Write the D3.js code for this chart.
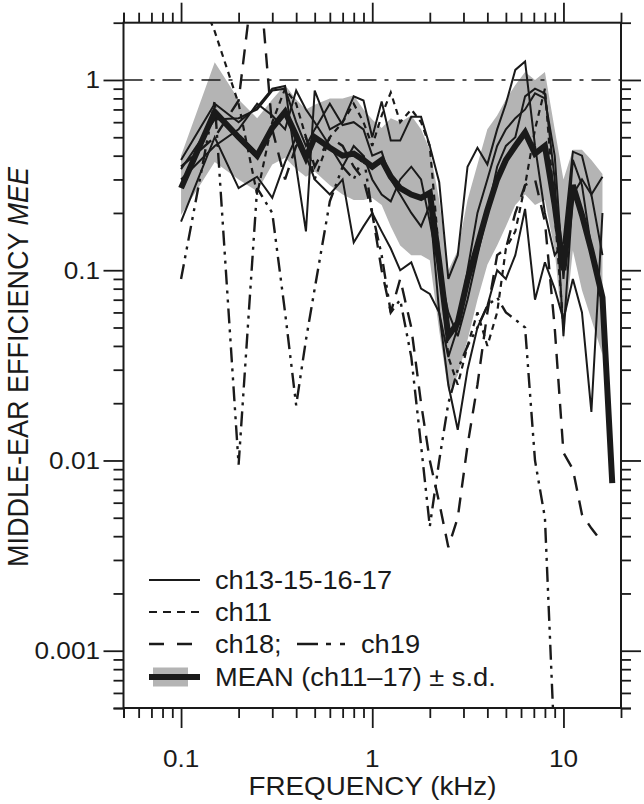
<!DOCTYPE html>
<html><head><meta charset="utf-8">
<script src="https://cdn.jsdelivr.net/npm/d3@7"></script>
<style>body{margin:0;background:#fff}svg{display:block}</style>
</head><body><svg id="c" width="644" height="804"></svg>
<script>
// ---------- data (kHz, middle-ear efficiency) ----------
const freq = [0.1,0.15,0.2,0.25,0.3,0.35,0.4,0.45,0.5,0.6,0.7,0.8,0.9,1.0,1.12,1.25,1.4,1.6,1.8,2.0,2.24,2.5,2.8,3.15,3.55,4.0,4.5,5.0,5.6,6.3,7.1,8.0,9.0,10,11.2,12.5,14,16,18];
const meanMEE = [0.27,0.68,0.50,0.40,0.56,0.68,0.51,0.39,0.50,0.44,0.40,0.41,0.38,0.35,0.38,0.31,0.27,0.25,0.24,0.255,0.11,0.045,0.053,0.089,0.135,0.207,0.30,0.38,0.45,0.53,0.41,0.45,0.22,0.10,0.28,0.195,0.127,0.072,0.0076];
const sdUpper = [0.40,1.24,0.79,0.63,0.79,0.94,0.79,0.70,0.74,0.80,0.80,0.83,0.70,0.62,0.56,0.63,0.60,0.65,0.55,0.43,0.234,0.10,0.127,0.234,0.36,0.55,0.65,0.79,0.94,1.10,1.0,1.10,0.55,0.30,0.43,0.43,0.38,0.32,null];
const sdLower = [0.195,0.37,0.30,0.26,0.36,0.39,0.34,0.31,0.33,0.28,0.25,0.234,0.234,0.24,0.22,0.17,0.135,0.12,0.12,0.113,0.048,0.023,0.028,0.043,0.07,0.107,0.135,0.17,0.22,0.25,0.22,0.234,0.127,0.043,0.127,0.0785,0.055,0.036,null];
const ch13 = [0.38,0.75,0.60,0.72,0.90,0.93,0.35,0.16,0.88,0.55,0.60,0.82,0.78,0.50,0.77,0.48,0.48,0.64,0.64,0.45,0.29,0.09,0.12,0.35,0.44,0.36,0.55,0.75,1.13,1.25,0.45,0.20,0.12,0.14,0.42,0.40,0.25,0.31,null];
const ch15 = [0.18,0.50,0.27,0.31,0.24,0.37,0.50,0.40,0.30,0.25,0.30,0.14,0.17,0.20,0.16,0.13,0.10,0.11,0.08,0.075,0.06,0.025,0.0145,0.03,0.05,0.065,0.10,0.09,0.12,0.21,0.07,0.11,0.08,0.055,0.09,0.06,0.018,0.20,null];
const ch16 = [0.34,0.62,0.63,0.70,0.88,0.90,0.60,0.45,0.55,0.75,0.58,0.60,0.55,0.40,0.42,0.30,0.25,0.20,0.17,0.22,0.06,0.035,0.05,0.10,0.20,0.30,0.45,0.55,0.63,0.70,0.85,0.80,0.40,0.09,0.38,0.28,0.13,0.07,null];
const ch17 = [0.30,0.45,0.55,0.75,0.65,0.55,0.88,0.70,0.60,0.45,0.35,0.45,0.40,0.30,0.25,0.23,0.30,0.35,0.30,0.18,0.10,0.06,0.045,0.07,0.12,0.20,0.35,0.45,0.50,0.82,0.90,0.85,0.30,0.045,0.25,0.30,0.25,0.12,null];
const ch11 = [4.9,1.8,0.75,0.25,0.6,0.9,0.75,0.5,0.3,0.5,0.6,0.75,0.6,0.45,0.65,0.86,0.6,0.7,0.6,0.45,0.12,0.035,0.025,0.04,0.06,0.04,0.06,0.13,0.16,0.28,0.55,0.9,0.2,0.05,null,null,null,null,null];
const ch18 = [0.35,0.5,0.78,5,0.55,0.3,0.45,0.5,0.35,0.5,0.45,0.35,0.3,0.2,0.1,0.06,0.09,0.05,0.02,0.01,0.006,0.0035,0.005,0.012,0.025,0.06,0.12,0.13,0.2,0.28,0.3,0.18,0.05,0.011,0.009,0.0052,0.0044,0.0037,null];
const ch19 = [0.09,0.78,0.0095,0.27,0.2,0.06,0.0195,0.043,0.08,0.23,0.35,0.3,0.4,0.2,0.12,0.06,0.07,0.035,0.012,0.0045,0.01,0.02,0.03,0.04,0.05,0.065,0.072,0.06,0.055,0.05,0.01,0.005,0.0003,null,null,null,null,null,null];
const xMajor = [0.1,1,10];
const xTickLabels = ["0.1","1","10"];
const yMajor = [0.001,0.01,0.1,1];
const yTickLabels = ["0.001","0.01","0.1","1"];
const legendLabels = ["ch13-15-16-17","ch11","ch18;","ch19","MEAN (ch11\u201317) \u00b1 s.d."];

// ---------- layout ----------
const L=123.5, R=621, T=22.7, B=708;
const INK="#1a1a1a", GRAY="#b4b4b4", FONT="'Liberation Sans', Arial, Helvetica, sans-serif";
const SX=1.09;
const svg=d3.select("#c");
const x=d3.scaleLog().domain([0.05,20]).range([L,R]);
const y=d3.scaleLog().domain([0.0005,2]).range([B,T]);

function minorTicks(lo,hi){const out=[];for(let e=-4;e<=2;e++){for(let k=2;k<=9;k++){const v=k*Math.pow(10,e);if(v>=lo*0.999&&v<=hi*1.001)out.push(v);}}if(lo<0.06)out.push(lo);return out;}
const xMinor=minorTicks(0.05,20).filter(v=>!xMajor.includes(v));
const yMinor=minorTicks(0.0005,2).filter(v=>!yMajor.includes(v));

svg.append("defs").append("clipPath").attr("id","clip").append("rect")
  .attr("x",L).attr("y",T).attr("width",R-L).attr("height",B-T);
const plot=svg.append("g").attr("clip-path","url(#clip)");

const pts=arr=>arr.map((v,i)=>[freq[i],v]);
const line=d3.line().defined(d=>d[1]!=null).x(d=>x(d[0])).y(d=>y(d[1]));

// s.d. band
const band=freq.map((f,i)=>({f,lo:sdLower[i],hi:sdUpper[i]}));
plot.append("path").datum(band)
  .attr("d",d3.area().defined(d=>d.lo!=null&&d.hi!=null).x(d=>x(d.f)).y0(d=>y(d.lo)).y1(d=>y(d.hi)))
  .attr("fill",GRAY).attr("stroke","none");

// reference line at MEE = 1
svg.append("line").attr("x1",L).attr("x2",R).attr("y1",y(1)).attr("y2",y(1))
  .attr("stroke",INK).attr("stroke-width",1.6).attr("stroke-dasharray","19,8,4,8");

const styles=[
  {d:ch18,w:2.4,dash:"15,10"},
  {d:ch19,w:2.4,dash:"15,6,3,6,3,6"},
  {d:ch11,w:2.2,dash:"6,5"},
  {d:ch13,w:2,dash:null},{d:ch15,w:2,dash:null},{d:ch16,w:2,dash:null},{d:ch17,w:2,dash:null},
  {d:meanMEE,w:6,dash:null}
];
styles.forEach(s=>{
  plot.append("path").datum(pts(s.d)).attr("d",line)
    .attr("fill","none").attr("stroke",INK).attr("stroke-width",s.w)
    .attr("stroke-linejoin","miter").attr("stroke-miterlimit",3)
    .attr("stroke-dasharray",s.dash);
});

// ---------- axes ----------
function axis(gen,scale,vals,size,tr){
  const g=svg.append("g").attr("transform",tr)
    .call(gen(scale).tickValues(vals).tickSize(size).tickFormat(""));
  g.select(".domain").remove();
  g.selectAll("line").attr("stroke",INK).attr("stroke-width",1.8);
}
axis(d3.axisBottom,x,xMajor,20,`translate(0,${B})`);
axis(d3.axisBottom,x,xMinor,10,`translate(0,${B})`);
axis(d3.axisTop,x,xMajor,20,`translate(0,${T})`);
axis(d3.axisTop,x,xMinor,10,`translate(0,${T})`);
axis(d3.axisLeft,y,yMajor,20,`translate(${L},0)`);
axis(d3.axisLeft,y,yMinor,10,`translate(${L},0)`);
axis(d3.axisRight,y,yMajor,20,`translate(${R},0)`);
axis(d3.axisRight,y,yMinor,10,`translate(${R},0)`);
svg.append("rect").attr("x",L).attr("y",T).attr("width",R-L).attr("height",B-T)
  .attr("fill","none").attr("stroke",INK).attr("stroke-width",2);

function txt(str,tx,ty,size,anchor,extra){
  const t=svg.append("text").attr("transform",`translate(${tx},${ty}) scale(${SX},1)${extra||""}`)
    .attr("font-family",FONT).attr("font-size",size).attr("fill",INK).attr("text-anchor",anchor);
  t.text(str);return t;
}
xMajor.forEach((v,i)=>txt(xTickLabels[i],x(v),767,24,"middle"));
yMajor.forEach((v,i)=>txt(yTickLabels[i],100,y(v)+8.5,24,"end"));
txt("FREQUENCY (kHz)",372.5,795,25.5,"middle");
const yl=svg.append("text").attr("transform",`translate(28,367) scale(${SX},1) rotate(-90)`)
  .attr("font-family",FONT).attr("font-size",27).attr("fill",INK).attr("text-anchor","middle");
yl.append("tspan").text("MIDDLE-EAR EFFICIENCY ");
yl.append("tspan").attr("font-style","italic").text("MEE");

// ---------- legend ----------
const lx0=149,lx1=200,tx0=215;
const rows=[580,612,644,677];
svg.append("line").attr("x1",lx0).attr("x2",lx1).attr("y1",rows[0]).attr("y2",rows[0]).attr("stroke",INK).attr("stroke-width",2);
txt(legendLabels[0],tx0,rows[0]+8.5,25,"start");
svg.append("line").attr("x1",lx0).attr("x2",lx1).attr("y1",rows[1]).attr("y2",rows[1]).attr("stroke",INK).attr("stroke-width",2.2).attr("stroke-dasharray","8,6");
txt(legendLabels[1],tx0,rows[1]+8.5,25,"start");
svg.append("line").attr("x1",lx0).attr("x2",lx1).attr("y1",rows[2]).attr("y2",rows[2]).attr("stroke",INK).attr("stroke-width",2.4).attr("stroke-dasharray","15,13");
txt(legendLabels[2],tx0,rows[2]+8.5,25,"start");
svg.append("line").attr("x1",297).attr("x2",352).attr("y1",rows[2]).attr("y2",rows[2]).attr("stroke",INK).attr("stroke-width",2.4).attr("stroke-dasharray","21,8,5,9,5,20");
txt(legendLabels[3],361,rows[2]+8.5,25,"start");
svg.append("rect").attr("x",153).attr("y",rows[3]-9.5).attr("width",35).attr("height",19).attr("fill",GRAY);
svg.append("line").attr("x1",lx0).attr("x2",lx1).attr("y1",rows[3]).attr("y2",rows[3]).attr("stroke",INK).attr("stroke-width",6);
txt(legendLabels[4],tx0,rows[3]+8.5,25,"start");
</script></body></html>
